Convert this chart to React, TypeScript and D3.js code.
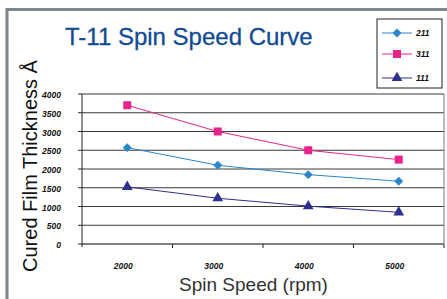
import React from "react";
import * as d3 from "d3";

const categories = ["2000", "3000", "4000", "5000"];
const yTicks = [0, 500, 1000, 1500, 2000, 2500, 3000, 3500, 4000];
const s211 = [2570, 2100, 1850, 1675];
const s311 = [3700, 3000, 2500, 2250];
const s111 = [1525, 1220, 1010, 845];

const seriesList = [
  { name: "211", values: s211, color: "#2a86cc", marker: "diamond" },
  { name: "311", values: s311, color: "#e8248c", marker: "square" },
  { name: "111", values: s111, color: "#2e2f8e", marker: "triangle" },
];

const symFor = (m: string) =>
  m === "diamond" ? d3.symbolSquare : m === "square" ? d3.symbolSquare : d3.symbolTriangle;

export default function App() {
  const W = 447, H = 299;
  const left = 82, right = 444, top = 94, bottom = 244;
  const x = d3.scaleBand<string>().domain(categories).range([left, right]);
  const y = d3.scaleLinear().domain([0, 4000]).range([bottom, top]);
  const line = d3
    .line<number>()
    .x((_, i) => (x(categories[i]) as number) + x.bandwidth() / 2)
    .y((d) => y(d));
  const ff = "'Liberation Sans', Arial, Helvetica, sans-serif";

  const markerPath = (m: string) =>
    d3.symbol().type(symFor(m)).size(m === "square" ? 64 : m === "diamond" ? 40 : 50)();
  const rot = (m: string) => (m === "diamond" ? " rotate(45)" : "");

  return (
    <svg
      width={W}
      height={H}
      style={{ position: "absolute", left: 0, top: 0, display: "block" }}
      fontFamily={ff}
    >
      <rect x={0} y={0} width={W} height={H} fill="#fff" />
      {/* outer frame */}
      <line x1={7} y1={9.5} x2={W} y2={9.5} stroke="#80868a" strokeWidth={3} />
      <line x1={7} y1={8} x2={7} y2={H} stroke="#80868a" strokeWidth={3} />

      {/* title */}
      <text x={65} y={45} fontSize={24} fill="#124a96" stroke="#124a96" strokeWidth={0.3}>
        T-11 Spin Speed Curve
      </text>

      {/* gridlines */}
      {yTicks.map((t) => (
        <line
          key={t}
          x1={left}
          x2={right}
          y1={y(t)}
          y2={y(t)}
          stroke={t === 0 ? "#555" : "#3a3a3a"}
          strokeWidth={t === 0 ? 1.5 : 1}
        />
      ))}
      {/* plot box */}
      <line x1={right} x2={right} y1={top} y2={bottom} stroke="#777" strokeWidth={1} />
      <line x1={left} x2={left} y1={top} y2={bottom + 3} stroke="#222" strokeWidth={1} />
      {yTicks.map((t) => (
        <line key={"t" + t} x1={left - 4} x2={left} y1={y(t)} y2={y(t)} stroke="#222" />
      ))}
      {categories.map((c) => (
        <line
          key={"xt" + c}
          x1={(x(c) as number) + x.bandwidth()}
          x2={(x(c) as number) + x.bandwidth()}
          y1={bottom}
          y2={bottom + 4}
          stroke="#222"
        />
      ))}

      {/* y tick labels */}
      {yTicks.map((t) => (
        <text
          key={"l" + t}
          x={61}
          y={y(t) + 4}
          fontSize={8.5}
          fontWeight="bold"
          fontStyle="italic"
          textAnchor="end"
          fill="#111"
        >
          {t}
        </text>
      ))}
      {/* x tick labels */}
      {categories.map((c) => (
        <text
          key={"xl" + c}
          x={(x(c) as number) + x.bandwidth() / 2 - 4}
          y={269}
          fontSize={8.5}
          fontWeight="bold"
          fontStyle="italic"
          textAnchor="middle"
          fill="#111"
        >
          {c}
        </text>
      ))}

      {/* series */}
      {seriesList.map((s) => (
        <g key={s.name}>
          <path d={line(s.values) || ""} fill="none" stroke={s.color} strokeWidth={1} />
          {s.values.map((v, i) => (
            <path
              key={i}
              d={markerPath(s.marker) || ""}
              transform={`translate(${(x(categories[i]) as number) + x.bandwidth() / 2},${y(v)})${rot(s.marker)}`}
              fill={s.color}
            />
          ))}
        </g>
      ))}

      {/* legend */}
      <rect x={377} y={19} width={65} height={69} fill="#fff" stroke="#222" strokeWidth={1} />
      {seriesList.map((s, i) => {
        const ly = [33, 54, 78][i];
        return (
          <g key={"lg" + s.name}>
            <line x1={382} x2={412} y1={ly} y2={ly} stroke={s.color} strokeWidth={1} />
            <path
              d={markerPath(s.marker) || ""}
              transform={`translate(397,${ly})${rot(s.marker)}`}
              fill={s.color}
            />
            <text
              x={416}
              y={ly + 3}
              fontSize={8.5}
              fontWeight="bold"
              fontStyle="italic"
              fill="#111"
            >
              {s.name}
            </text>
          </g>
        );
      })}

      {/* axis titles */}
      <text
        transform="translate(37,166) rotate(-90)"
        fontSize={20}
        textAnchor="middle"
        fill="#111"
      >
        Cured Film Thickness Å
      </text>
      <text x={253.5} y={291} fontSize={19} textAnchor="middle" fill="#333">
        Spin Speed (rpm)
      </text>
    </svg>
  );
}
